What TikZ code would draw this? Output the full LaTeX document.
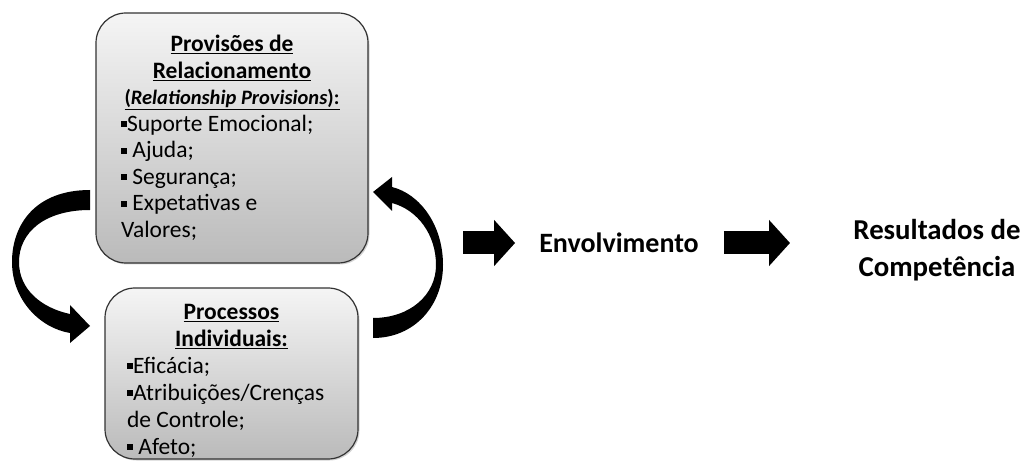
\documentclass[tikz,border=0pt]{standalone}
\usepackage{fontspec}
\setmainfont{Carlito}
\usetikzlibrary{arrows.meta,shadows,positioning}

\newcommand\sqbul{\rule[0.18em]{0.26em}{0.26em}}
\newcommand\plainspaces{\spaceskip=0pt\xspaceskip=0pt\relax}

\tikzset{
  provbox/.style={draw=black!80, line width=1.2pt, rounded corners=30pt,
    top color=black!4, bottom color=black!27,
    drop shadow={shadow xshift=1.5pt, shadow yshift=-1.5pt, opacity=0.35},
    font=\fontsize{23.5}{26.5}\selectfont, align=flush left, inner sep=0pt},
  blockarrow/.style={line width=23pt, -{Triangle[length=21pt,width=45pt]}},
  bigword/.style={font=\bfseries\fontsize{28}{36}\selectfont, align=center, inner sep=0pt},
  loopfill/.style={fill=black, draw=none},
}

\begin{document}
\begin{tikzpicture}[x=1pt, y=-1pt]
  \useasboundingbox (0,0) rectangle (1028,462);
  % boxes
  \node[provbox, minimum width=272pt, minimum height=250pt, text width=222pt] (prov) at (232,138)
    {\plainspaces
     {\centering\bfseries\underline{Provisões de}\\
      \underline{Relacionamento}\\
      {\fontsize{20.5}{26.5}\selectfont\underline{(\textit{Relationship Provisions}):}}\par}
     \sqbul Suporte Emocional;\\
     \sqbul\ Ajuda;\\
     \sqbul\ Segurança;\\
     \sqbul\ Expetativas e\\
     Valores;};
  \node[provbox, minimum width=253pt, minimum height=171pt, text width=209pt,
        font=\fontsize{23.5}{27}\selectfont] (proc) at (231.5,373.5)
    {\plainspaces
     {\centering\bfseries\rule{0pt}{30pt}\underline{Processos}\\
      \underline{Individuais:}\par}
     \sqbul Eficácia;\\
     \sqbul Atribuições/Crenças\\
     de Controle;\\
     \sqbul\ Afeto;};
  % curved arrows
  \fill[loopfill] (90,190) .. controls (35,190) and (12,225) .. (12,262)
    .. controls (12,300) and (40,328) .. (70,333)
    -- (70,343) -- (90,326) -- (70,305) -- (70,314)
    .. controls (42,308) and (19,290) .. (19,262)
    .. controls (19,232) and (45,210) .. (90,210) -- cycle;
  \fill[loopfill] (373,338) .. controls (415,338) and (443,305) .. (443,265)
    .. controls (443,225) and (420,194) .. (392,187)
    -- (392,177) -- (373,192) -- (392,211) -- (392,203)
    .. controls (418,210) and (436,235) .. (436,265)
    .. controls (436,295) and (410,318) .. (373,318) -- cycle;
  % outcomes
  \node[bigword] (env) at (619,243) {Envolvimento};
  \node[bigword, font=\bfseries\fontsize{28.8}{36.5}\selectfont] (res) at (937,250) {Resultados de\\Competência};
  \coordinate (loopout) at (463,243);
  \coordinate (resin) at (790,243);
  \draw[blockarrow, shorten >=24pt] (loopout) -- (loopout -| env.west);
  \draw[blockarrow, shorten <=25pt] (env.east) -- (resin);
\end{tikzpicture}
\end{document}
